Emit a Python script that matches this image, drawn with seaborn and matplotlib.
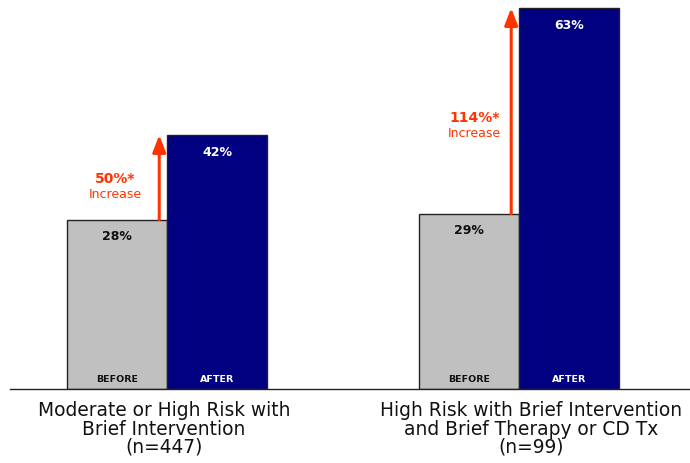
import matplotlib
matplotlib.use("Agg")
import matplotlib.pyplot as plt
import matplotlib.transforms as mtransforms
import seaborn as sns
import pandas as pd

# Data
groups = ["Moderate or High Risk with\nBrief Intervention\n(n=447)",
          "High Risk with Brief Intervention\nand Brief Therapy or CD Tx\n(n=99)"]
phases = ["BEFORE", "AFTER"]
before = [28, 29]
after = [42, 63]
increase_labels = ["50%*", "114%*"]

df = pd.DataFrame({
    "group": groups * 2,
    "phase": ["BEFORE"] * 2 + ["AFTER"] * 2,
    "value": before + after,
})

sns.set_theme(style="white")
plt.rcParams["font.family"] = ["DejaVu Sans"]

fig = plt.figure(figsize=(6.9, 4.64), dpi=100)
ax = fig.add_axes([10 / 690, 74 / 464, 680 / 690, 390 / 464])

palette = {"BEFORE": "#C0C0C0", "AFTER": "#000080"}
sns.barplot(data=df, x="group", y="value", hue="phase", hue_order=phases,
            palette=palette, width=0.57, gap=0, edgecolor="#222222",
            linewidth=1.0, saturation=1, legend=False, ax=ax)

ax.set_ylim(0, 64.5)
ax.set_xlim(-0.446, 1.486)
ax.set_xlabel("")
ax.set_ylabel("")
for s in ["left", "right", "top"]:
    ax.spines[s].set_visible(False)
ax.spines["bottom"].set_color("#222222")
ax.spines["bottom"].set_linewidth(1.0)
ax.set_yticks([])
ax.set_xticks([0, 1])
ax.set_xticklabels(groups, fontsize=13.4, linespacing=0.96, color="#111111")
ax.tick_params(axis="x", length=0, pad=8)
ax.set_xticks([0.506], minor=True)
ax.tick_params(axis="x", which="minor", length=4, width=0.8, color="#222222")

# nudge the category captions sideways (pixels)
for lab, shift in zip(ax.get_xticklabels(), [-3, 12]):
    lab.set_transform(lab.get_transform() +
                      mtransforms.ScaledTranslation(shift / 100, 0, fig.dpi_scale_trans))

# Value and phase labels inside bars
bw = 0.285
for i in range(len(groups)):
    for j, (vals, txtc) in enumerate([(before, "#111111"), (after, "white")]):
        x = i + (j - 0.5) * bw
        v = vals[i]
        ax.annotate(f"{v}%", (x, v), xytext=(0, -11.5), textcoords="offset points",
                    ha="center", va="center", fontsize=9, fontweight="bold",
                    color=txtc)
        ax.annotate(phases[j], (x, 0), xytext=(0, 7.3), textcoords="offset points",
                    ha="center", va="center", fontsize=6.8, fontweight="bold",
                    color=txtc)

# Increase arrows with their captions (caption anchor: x shift in px, height)
orange = "#FF3300"
caption_pos = [(-44, 34.9), (-37, 45.0)]
for i in range(len(groups)):
    xa = i - 0.022
    ax.annotate("", xy=(xa, after[i]), xytext=(xa, before[i]),
                arrowprops=dict(arrowstyle="-|>,head_length=0.85,head_width=0.33",
                                color=orange, lw=2.2, shrinkA=0, shrinkB=0))
    dx, cy = caption_pos[i]
    ax.annotate(increase_labels[i], (xa, cy), xytext=(dx * 0.72, 0),
                textcoords="offset points", ha="center", va="center",
                fontsize=10, fontweight="bold", color=orange)
    ax.annotate("Increase", (xa, cy), xytext=(dx * 0.72, -11.5),
                textcoords="offset points", ha="center", va="center",
                fontsize=9, color=orange)

fig.savefig("out.png", dpi=100)
